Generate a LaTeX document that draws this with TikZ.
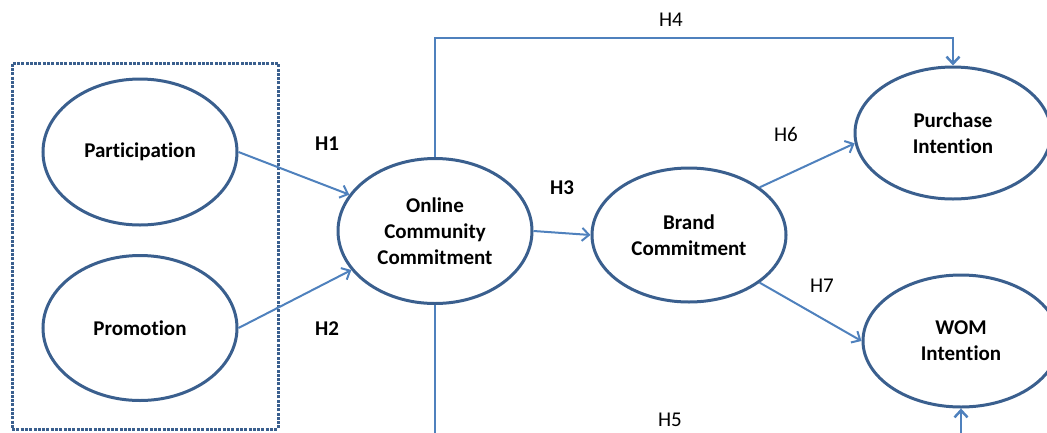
\documentclass[tikz,border=0pt]{standalone}
\usepackage{fontspec}
\setmainfont{Carlito}[Ligatures={NoCommon,NoRequired,NoContextual}]
\usetikzlibrary{arrows.meta,shapes.geometric}
\definecolor{ellc}{HTML}{3A5F8E}
\definecolor{arrc}{HTML}{4F81BD}
\tikzset{
  construct/.style={ellipse, draw=ellc, line width=3pt, inner sep=0pt,
    minimum width=#1, minimum height=134pt, align=center,
    font=\fontsize{21}{26}\selectfont\bfseries},
  construct/.default=194pt,
  grpbox/.style={draw=ellc, line width=3pt, dash pattern=on 3pt off 1.3pt, inner sep=0pt},
  hyp/.style={draw=arrc, line width=2pt, -{Straight Barb[length=7pt,width=13pt]}},
  link/.style={draw=arrc, line width=2.5pt, -{Straight Barb[length=7pt,width=13pt]}},
  hlab/.style={font=\fontsize{21}{24}\selectfont, inner sep=0pt},
  hlabb/.style={font=\fontsize{21}{24}\selectfont\bfseries, inner sep=0pt}
}
\begin{document}
\begin{tikzpicture}[x=1pt,y=-1pt]
\useasboundingbox (0,0) rectangle (1047,432);
\node (grp) [grpbox, minimum width=266pt, minimum height=366pt] at (145,246) {};
\node (part) [construct, minimum height=146pt] at (140,152) {Participation};
\node (promo) [construct, minimum height=145pt] at (140,328) {Promotion};
\node (occ) [construct, minimum height=145pt] at (435,231) {Online\\Community\\Commitment};
\node (brand) [construct, minimum height=134pt] at (689,235) {Brand\\Commitment};
\node (pur) [construct=196pt, minimum height=132pt] at (953,133) {Purchase\\Intention};
\node (wom) [construct=196pt, minimum height=132pt] at (961,341) {WOM\\Intention};
\coordinate (h4c) at (953,38);
\coordinate (h5c) at (961,450);
\draw[hyp] (part.east) -- (occ.157);
\draw[hyp] (promo.east) -- (occ.205);
\draw[hyp] (occ.east) -- (brand.west);
\draw[hyp] (brand.34) -- (pur.186);
\draw[hyp] (brand.-34) -- (wom.west);
\draw[link] (occ.north) |- (h4c) -- (pur.north);
\draw[link] (occ.south) |- (h5c) -- (wom.south);
\node (h1) [hlabb] at (327,144) {H1};
\node (h2) [hlabb] at (327,329) {H2};
\node (h3) [hlabb] at (562,188) {H3};
\node (h4) [hlab] at (671,20) {H4};
\node (h5) [hlab] at (670,420) {H5};
\node (h6) [hlab] at (786,134) {H6};
\node (h7) [hlab] at (822,286) {H7};
\end{tikzpicture}
\end{document}
